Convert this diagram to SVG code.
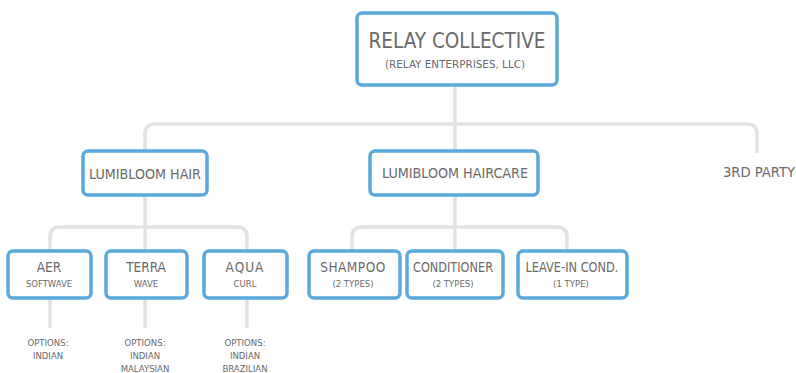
<svg xmlns="http://www.w3.org/2000/svg" width="796" height="373" viewBox="0 0 796 373">
<style>
.box{fill:#fff;stroke:#5ba8dd;stroke-width:3.5}
.con{fill:none;stroke:#e2e2e2;stroke-width:3.5;stroke-linecap:butt}
text{font-family:"DejaVu Sans Condensed","Liberation Sans Narrow","Liberation Sans",sans-serif;fill:#6a6a6a;text-anchor:middle}
.t1{font-size:22px}
.t2{font-size:14px}
.t3{font-size:13.5px}
.s{font-size:9.5px}
</style>
<rect width="796" height="373" fill="#fff"/>
<g id="connectors">
<path class="con" d="M455 85 V150"/>
<path class="con" d="M145 151 V134 Q145 124 155 124 H747 Q757 124 757 134 V153"/>
<path class="con" d="M145 195 V251"/>
<path class="con" d="M50 251 V237 Q50 227 60 227 H237 Q247 227 247 237 V251"/>
<path class="con" d="M455 195 V251"/>
<path class="con" d="M352 251 V237 Q352 227 362 227 H557 Q567 227 567 237 V251"/>
<path class="con" d="M50 298 V328"/>
<path class="con" d="M145 298 V328"/>
<path class="con" d="M247 298 V328"/>
</g>
<g id="relay">
<rect class="box" x="357" y="13" width="200" height="72" rx="5" stroke-width="4"/>
<text class="t1" x="457" y="48" textLength="177" lengthAdjust="spacingAndGlyphs">RELAY COLLECTIVE</text>
<text x="455" y="68" font-size="10.5" textLength="140" lengthAdjust="spacingAndGlyphs">(RELAY ENTERPRISES, LLC)</text>
</g>
<g id="lumibloom-hair">
<rect class="box" x="83" y="151" width="124" height="44" rx="5"/>
<text class="t2" x="145" y="179" textLength="112" lengthAdjust="spacingAndGlyphs">LUMIBLOOM HAIR</text>
</g>
<g id="lumibloom-haircare">
<rect class="box" x="370" y="151" width="168" height="44" rx="5"/>
<text class="t2" x="455" y="178" textLength="146" lengthAdjust="spacingAndGlyphs">LUMIBLOOM HAIRCARE</text>
</g>
<g id="third-party">
<text class="t2" x="759" y="177" textLength="72" lengthAdjust="spacingAndGlyphs">3RD PARTY</text>
</g>
<g id="aer">
<rect class="box" x="8" y="251" width="83" height="47" rx="5"/>
<text class="t3" x="49" y="272">AER</text>
<text class="s" x="49" y="287" textLength="46" lengthAdjust="spacingAndGlyphs">SOFTWAVE</text>
</g>
<g id="terra">
<rect class="box" x="106" y="251" width="81" height="47" rx="5"/>
<text class="t3" x="146" y="272">TERRA</text>
<text class="s" x="146" y="287">WAVE</text>
</g>
<g id="aqua">
<rect class="box" x="204" y="251" width="83" height="47" rx="5"/>
<text class="t3" x="245" y="272" letter-spacing="1">AQUA</text>
<text class="s" x="245" y="287">CURL</text>
</g>
<g id="shampoo">
<rect class="box" x="309" y="251" width="91" height="47" rx="5"/>
<text class="t3" x="353" y="272" letter-spacing="0.5">SHAMPOO</text>
<text class="s" x="353" y="287">(2 TYPES)</text>
</g>
<g id="conditioner">
<rect class="box" x="407" y="251" width="96" height="47" rx="5"/>
<text class="t3" x="453" y="272" textLength="80" lengthAdjust="spacingAndGlyphs">CONDITIONER</text>
<text class="s" x="453" y="287">(2 TYPES)</text>
</g>
<g id="leave-in">
<rect class="box" x="518" y="251" width="109" height="47" rx="5"/>
<text class="t3" x="572" y="272" textLength="93" lengthAdjust="spacingAndGlyphs">LEAVE-IN COND.</text>
<text class="s" x="571" y="287">(1 TYPE)</text>
</g>
<g id="options-aer">
<text class="s" x="48" y="346">OPTIONS:</text>
<text class="s" x="48" y="359">INDIAN</text>
</g>
<g id="options-terra">
<text class="s" x="145" y="346">OPTIONS:</text>
<text class="s" x="145" y="359">INDIAN</text>
<text class="s" x="145" y="372">MALAYSIAN</text>
</g>
<g id="options-aqua">
<text class="s" x="245" y="346">OPTIONS:</text>
<text class="s" x="245" y="359">INDIAN</text>
<text class="s" x="245" y="372">BRAZILIAN</text>
</g>
</svg>
